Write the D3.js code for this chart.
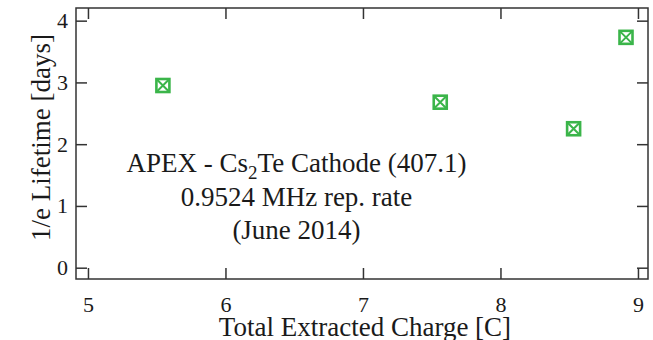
<!DOCTYPE html>
<html>
<head>
<meta charset="utf-8">
<script src="https://cdn.jsdelivr.net/npm/d3@7"></script>
<style>
  html, body { margin: 0; padding: 0; background: #fff; }
  svg { display: block; }
  svg text { font-family: "Liberation Serif", "Times New Roman", Tinos, serif; fill: #1a1a1a; }
</style>
</head>
<body>
<svg id="chart" width="653" height="340"></svg>
<script>
// Lifetime measurements vs. total extracted charge
const charge = [5.545, 7.562, 8.532, 8.913];
const lifetime = [2.95, 2.68, 2.25, 3.73];
const xTicks = [5, 6, 7, 8, 9];
const yTicks = [0, 1, 2, 3, 4];

const frame = { left: 76, right: 648, top: 8, bottom: 279 };
const serif = '"Liberation Serif", "Times New Roman", Tinos, serif';

const x = d3.scaleLinear().domain([4.913, 9.073]).range([frame.left, frame.right]);
const y = d3.scaleLinear().domain([-0.183, 4.205]).range([frame.bottom, frame.top]);

const svg = d3.select("#chart");
const ink = "#333";
const tickLen = 11;
const tickFs = 22;
const textFs = 27;

// Ticks on all four sides, pointing inward
const gAxes = svg.append("g");
const addAxis = (axis, tx, ty, labels) => {
  const g = gAxes.append("g").attr("transform", `translate(${tx},${ty})`).call(axis);
  g.attr("font-family", null).attr("font-size", null);
  g.select(".domain").remove();
  g.selectAll(".tick line").attr("stroke", ink).attr("stroke-width", 1.5);
  g.selectAll(".tick text").style("font-size", tickFs + "px").attr("fill", "#1a1a1a")
    .style("font-family", serif);
  if (!labels) g.selectAll(".tick text").remove();
  return g;
};
addAxis(d3.axisBottom(x).tickValues(xTicks).tickSize(-tickLen).tickPadding(tickLen + 6).tickFormat(d3.format("d")),
  0, frame.bottom, true);
addAxis(d3.axisTop(x).tickValues(xTicks).tickSize(-tickLen), 0, frame.top, false);
addAxis(d3.axisLeft(y).tickValues(yTicks).tickSize(-tickLen).tickPadding(8).tickFormat(d3.format("d")),
  frame.left, 0, true);
addAxis(d3.axisRight(y).tickValues(yTicks).tickSize(-tickLen), frame.right, 0, false);

// Plot frame
svg.append("rect")
  .attr("x", frame.left).attr("y", frame.top)
  .attr("width", frame.right - frame.left).attr("height", frame.bottom - frame.top)
  .attr("fill", "none").attr("stroke", ink).attr("stroke-width", 1.5);

// Markers: square with a cross
const green = "#3bb54a";
const s = 6.5;
const pts = svg.append("g").selectAll("g").data(charge.map((c, i) => [c, lifetime[i]]))
  .join("g").attr("transform", d => `translate(${x(d[0])},${y(d[1])})`);
pts.append("rect").attr("x", -s).attr("y", -s).attr("width", 2 * s).attr("height", 2 * s)
  .attr("fill", "none").attr("stroke", green).attr("stroke-width", 2.6);
pts.append("path").attr("d", `M${-s},${-s}L${s},${s}M${s},${-s}L${-s},${s}`)
  .attr("stroke", green).attr("stroke-width", 2);

// Annotation
const ann = svg.append("g").style("font-size", textFs + "px").attr("text-anchor", "middle");
const t1 = ann.append("text").attr("x", 296.5).attr("y", 172);
t1.append("tspan").text("APEX - Cs");
t1.append("tspan").attr("dy", 7).style("font-size", "19px").text("2");
t1.append("tspan").attr("dy", -7).text("Te Cathode (407.1)");
ann.append("text").attr("x", 296.5).attr("y", 205.5).text("0.9524 MHz rep. rate");
ann.append("text").attr("x", 296.5).attr("y", 238.5).text("(June 2014)");

// Axis titles
svg.append("text").attr("x", (frame.left + frame.right) / 2 + 3).attr("y", 336)
  .attr("text-anchor", "middle").style("font-size", "27px").text("Total Extracted Charge [C]");
svg.append("text").attr("transform", `translate(50,${(frame.top + frame.bottom) / 2 - 6}) rotate(-90)`)
  .attr("text-anchor", "middle").style("font-size", "27px").text("1/e Lifetime [days]");
</script>
</body>
</html>
